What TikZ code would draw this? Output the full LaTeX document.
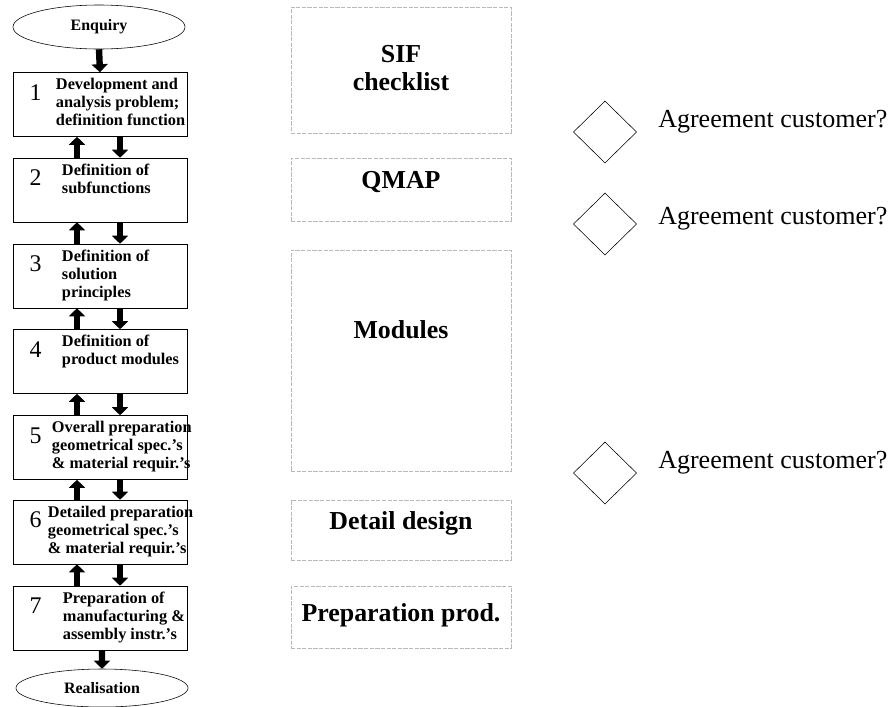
\documentclass[tikz,border=0pt]{standalone}
\usepackage{fontspec}
\setmainfont{Liberation Serif}
\usepackage{tikz}
\usetikzlibrary{shapes.geometric,arrows.meta,calc,positioning}

\begin{document}
\begin{tikzpicture}[x=0.025cm, y=-0.025cm,
    stepbox/.style={draw, thin, rectangle, minimum width=4.35cm, minimum height=1.6cm, inner sep=0pt},
    endcap/.style={draw, thin, ellipse, minimum width=4.3cm, minimum height=1.1cm, inner sep=0pt, font=\fontsize{11.3}{12}\selectfont\bfseries},
    stepnum/.style={anchor=base, inner sep=0pt, font=\fontsize{17}{17}\selectfont},
    steptext/.style={anchor=north west, inner sep=0pt, align=left, font=\fontsize{11.6}{12.8}\selectfont\bfseries},
    phasebox/.style={draw=gray!55, line width=0.5pt, dash pattern=on 3pt off 1pt, rectangle, minimum width=5.5cm, inner sep=0pt},
    phasetext/.style={inner sep=0pt, align=center, font=\fontsize{18.4}{20}\selectfont\bfseries},
    checkdiamond/.style={draw, thin, diamond, minimum width=1.58cm, minimum height=1.55cm, inner sep=0pt},
    checktext/.style={anchor=base west, inner sep=0pt, font=\fontsize{18.5}{20}\selectfont},
    flowarrow/.style={line width=0.16cm, -{Triangle[width=0.4cm,length=0.2cm]}}]
    \useasboundingbox (0,0) rectangle (892,706);

    % Design steps
    \node[endcap] (enq) at (99,27) {Enquiry};
    \foreach \i/\y in {1/104.5, 2/190, 3/276, 4/361.5, 5/447.5, 6/532, 7/618} {
        \node[stepbox] (s\i) at (100,\y) {};
        \node[stepnum] (n\i) at ($(s\i.north west)+(23,28)$) {\i};
    }
    \node[endcap, minimum height=0.95cm] (real) at (102,688) {Realisation};

    % Step descriptions
    \foreach \i/\tx/\lab in {1/43/{Development and\\analysis problem;\\definition function},
                             2/49/{Definition of\\subfunctions},
                             3/49/{Definition of\\solution\\principles},
                             4/49/{Definition of\\product modules},
                             5/39/{Overall preparation\\geometrical spec.’s\\\& material requir.’s},
                             6/35/{Detailed preparation\\geometrical spec.’s\\\& material requir.’s},
                             7/50/{Preparation of\\manufacturing \&\\assembly instr.’s}} {
        \node[steptext] (t\i) at ($(s\i.north west)+(\tx,6)$) {\lab};
    }

    % Connections
    \draw[flowarrow] (enq.south) -- (s1.north);
    \foreach \i in {1,...,6} {
        \pgfmathtruncatemacro{\j}{\i+1}
        \draw[flowarrow] ([xshift=0.5cm]s\i.south) -- ([xshift=0.5cm]s\j.north);
        \draw[flowarrow] ([xshift=-0.575cm]s\j.north) -- ([xshift=-0.575cm]s\i.south);
    }
    \draw[flowarrow] ([xshift=0.05cm]s7.south) -- (real.north);

    % Phases
    \node[phasebox, minimum height=3.15cm] (sif) at (401,70) {};
    \node[phasebox, minimum height=1.575cm] (qmap) at (401,189.5) {};
    \node[phasebox, minimum height=5.525cm] (mod) at (401,360.5) {};
    \node[phasebox, minimum height=1.5cm] (det) at (401,530) {};
    \node[phasebox, minimum height=1.55cm] (prep) at (401,617) {};
    \node[phasetext] (sifl) at (401,68) {SIF\\checklist};
    \node[phasetext] (qmapl) at (401,182) {QMAP};
    \node[phasetext] (modl) at (401,330) {Modules};
    \node[phasetext] (detl) at (401,523) {Detail design};
    \node[phasetext] (prepl) at (401,615) {Preparation prod.};

    % Customer checks
    \foreach \i/\y/\b in {1/132/127, 2/224/224, 3/473/468} {
        \node[checkdiamond] (d\i) at (605,\y) {};
        \node[checktext] (a\i) at (658,\b) {Agreement customer?};
    }
\end{tikzpicture}
\end{document}
